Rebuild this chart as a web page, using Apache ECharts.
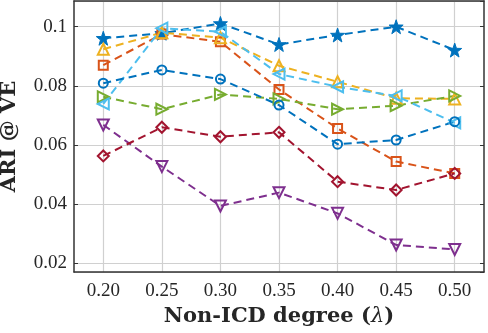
<!DOCTYPE html>
<html><head><meta charset="utf-8">
<script src="https://cdn.jsdelivr.net/npm/echarts@6/dist/echarts.min.js"></script>
<style>html,body{margin:0;padding:0;background:#fff}#c{width:488px;height:333px}</style>
</head><body><div id="c"></div>
<script>
const categories = ['0.20','0.25','0.30','0.35','0.40','0.45','0.50'];
const starBlue = [0.0961,0.0978,0.1011,0.0940,0.0972,0.1000,0.0921];
const squareOrange = [0.0870,0.0975,0.0949,0.0788,0.0656,0.0544,0.0504];
const triUpYellow = [0.0924,0.0980,0.0963,0.0868,0.0814,0.0758,0.0756];
const triDownPurple = [0.0668,0.0527,0.0394,0.0439,0.0369,0.0262,0.0247];
const triRightGreen = [0.0763,0.0721,0.0771,0.0756,0.0721,0.0733,0.0766];
const triLeftCyan = [0.0739,0.0995,0.0983,0.0840,0.0797,0.0766,0.0675];
const diamondRed = [0.0563,0.0660,0.0628,0.0643,0.0476,0.0448,0.0504];
const circleBlue = [0.0809,0.0854,0.0823,0.0735,0.0603,0.0617,0.0679];

const STAR = 'path://M0,-10 L2.35,-3.24 L9.51,-3.09 L3.8,1.24 L5.88,8.09 L0,4 L-5.88,8.09 L-3.8,1.24 L-9.51,-3.09 L-2.35,-3.24Z';
const TRI_UP = 'path://M5,0 L10,9 L0,9 Z';
const TRI_DOWN = 'path://M0,0 L10,0 L5,9 Z';
const TRI_RIGHT = 'path://M0,0 L9,5 L0,10 Z';
const TRI_LEFT = 'path://M9,0 L9,10 L0,5 Z';

function mk(name, data, color, symbol, size, filled) {
  return {
    name, type: 'line', data, symbol, symbolSize: size,
    lineStyle: { color, width: 2, type: [8, 5] },
    itemStyle: { color: filled ? color : 'rgba(0,0,0,0)', borderColor: color, borderWidth: filled ? 1 : 2 },
    emphasis: { disabled: true }, animation: false, z: 3
  };
}

const FONT = 'Liberation Serif';
const TFONT = 'DejaVu Serif';
const axisCol = '#333';
const chart = echarts.init(document.getElementById('c'));
chart.setOption({
  animation: false,
  grid: { left: 74, right: 4, top: 1, bottom: 61, show: false, containLabel: false, outerBoundsMode: 'none' },
  xAxis: [{
    type: 'category', data: categories, boundaryGap: true,
    axisLine: { lineStyle: { color: axisCol, width: 1.5 } },
    axisTick: { inside: true, length: 4, alignWithLabel: true, lineStyle: { color: axisCol, width: 1 } },
    axisLabel: { fontFamily: FONT, fontSize: 19, color: '#262626', margin: 10 },
    splitLine: { show: true, alignWithLabel: true, lineStyle: { color: '#d0d0d0', width: 1.2 } },
    name: '{b|Non-ICD degree (}{i|λ}{b|)}', nameLocation: 'middle', nameGap: 32,
    nameTextStyle: { rich: {
      b: { fontFamily: TFONT, fontSize: 21, fontWeight: 'bold', color: '#262626' },
      i: { fontFamily: TFONT, fontSize: 21, fontStyle: 'italic', color: '#262626' } } }
  }, {
    type: 'category', data: categories, position: 'top', boundaryGap: true,
    axisLine: { lineStyle: { color: axisCol, width: 1.5 } },
    axisTick: { inside: true, length: 4, alignWithLabel: true, lineStyle: { color: axisCol, width: 1 } },
    axisLabel: { show: false }, splitLine: { show: false }
  }],
  yAxis: [{
    type: 'value', min: 0.01706, max: 0.1087, splitNumber: 5,
    axisLine: { show: true, lineStyle: { color: axisCol, width: 1.5 } },
    axisTick: { show: true, inside: true, length: 4, lineStyle: { color: axisCol, width: 1 } },
    axisLabel: { fontFamily: FONT, fontSize: 19, color: '#262626', margin: 7, showMinLabel: false, showMaxLabel: false },
    splitLine: { show: true, lineStyle: { color: '#d0d0d0', width: 1.2 } },
    name: 'ARI @ VE', nameLocation: 'middle', nameGap: 54, nameRotate: 90,
    nameTextStyle: { fontFamily: TFONT, fontSize: 21, fontWeight: 'bold', color: '#262626' }
  }, {
    type: 'value', min: 0.01706, max: 0.1087, splitNumber: 5, position: 'right',
    axisLine: { show: true, lineStyle: { color: axisCol, width: 1.5 } },
    axisTick: { show: true, inside: true, length: 4, lineStyle: { color: axisCol, width: 1 } },
    axisLabel: { show: false }, splitLine: { show: false }
  }],
  series: [
    mk('s1', starBlue, '#0072BD', STAR, 14, true),
    mk('s2', squareOrange, '#D95319', 'rect', 9, false),
    mk('s3', triUpYellow, '#EDB120', TRI_UP, 11, false),
    mk('s4', triDownPurple, '#7E2F8E', TRI_DOWN, 11, false),
    mk('s5', triRightGreen, '#77AC30', TRI_RIGHT, 11, false),
    mk('s6', triLeftCyan, '#4DBEEE', TRI_LEFT, 11, false),
    mk('s7', diamondRed, '#A2142F', 'diamond', 11, false),
    mk('s8', circleBlue, '#0072BD', 'circle', 9, false)
  ]
});
</script></body></html>
